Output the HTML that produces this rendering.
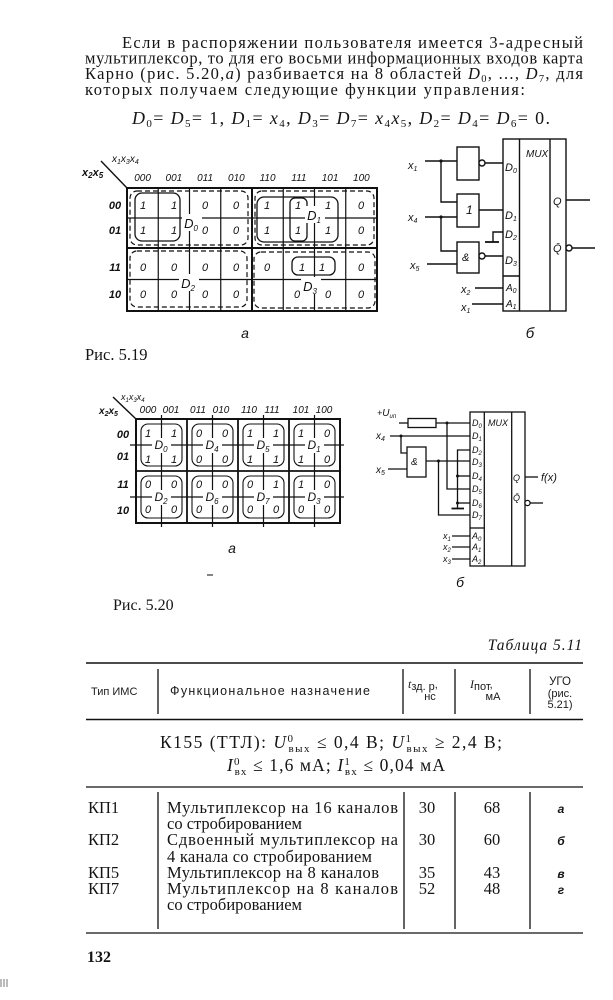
<!DOCTYPE html>
<html><head><meta charset="utf-8">
<style>
html,body{margin:0;padding:0;background:#fff;}
svg{display:block;}
</style></head><body>
<svg width="613" height="1000" viewBox="0 0 613 1000" xmlns="http://www.w3.org/2000/svg">
<rect width="613" height="1000" fill="#fff"/>

<!-- ============ BODY TEXT ============ -->
<g font-family="'Liberation Serif', serif" fill="#141414" font-size="16.5">
<text x="122" y="48" textLength="461" lengthAdjust="spacing">Если в распоряжении пользователя имеется 3-адресный</text>
<text x="85" y="63.5" textLength="498" lengthAdjust="spacing">мультиплексор, то для его восьми информационных входов карта</text>
<text x="85" y="79" textLength="498" lengthAdjust="spacing">Карно (рис. 5.20,<tspan font-style="italic">а</tspan>) разбивается на 8 областей <tspan font-style="italic">D</tspan><tspan dy="3" font-size="10.5">0</tspan><tspan dy="-3">, ..., </tspan><tspan font-style="italic">D</tspan><tspan dy="3" font-size="10.5">7</tspan><tspan dy="-3">, для</tspan></text>
<text x="85" y="95" textLength="440" lengthAdjust="spacing">которых получаем следующие функции управления:</text>
<text x="132" y="124" font-size="18" textLength="418" lengthAdjust="spacing"><tspan font-style="italic">D</tspan><tspan dy="3" font-size="11">0</tspan><tspan dy="-3">= </tspan><tspan font-style="italic">D</tspan><tspan dy="3" font-size="11">5</tspan><tspan dy="-3">= 1, </tspan><tspan font-style="italic">D</tspan><tspan dy="3" font-size="11">1</tspan><tspan dy="-3">= </tspan><tspan font-style="italic">x</tspan><tspan dy="3" font-size="11">4</tspan><tspan dy="-3">, </tspan><tspan font-style="italic">D</tspan><tspan dy="3" font-size="11">3</tspan><tspan dy="-3">= </tspan><tspan font-style="italic">D</tspan><tspan dy="3" font-size="11">7</tspan><tspan dy="-3">= </tspan><tspan font-style="italic">x</tspan><tspan dy="3" font-size="11">4</tspan><tspan dy="-3" font-style="italic">x</tspan><tspan dy="3" font-size="11">5</tspan><tspan dy="-3">, </tspan><tspan font-style="italic">D</tspan><tspan dy="3" font-size="11">2</tspan><tspan dy="-3">= </tspan><tspan font-style="italic">D</tspan><tspan dy="3" font-size="11">4</tspan><tspan dy="-3">= </tspan><tspan font-style="italic">D</tspan><tspan dy="3" font-size="11">6</tspan><tspan dy="-3">= 0.</tspan></text>
</g>

<!-- ============ FIG 5.19 a : Karnaugh map ============ -->
<g stroke="#111" fill="none">
  <rect x="127" y="188" width="250" height="123" stroke-width="2"/>
  <line x1="252" y1="188" x2="252" y2="311" stroke-width="2"/>
  <line x1="127" y1="248" x2="377" y2="248" stroke-width="2"/>
  <g stroke-width="1.2">
    <line x1="158.25" y1="188" x2="158.25" y2="311"/>
    <line x1="189.5" y1="188" x2="189.5" y2="311"/>
    <line x1="220.75" y1="188" x2="220.75" y2="311"/>
    <line x1="283.25" y1="188" x2="283.25" y2="311"/>
    <line x1="314.5" y1="188" x2="314.5" y2="311"/>
    <line x1="345.75" y1="188" x2="345.75" y2="311"/>
    <line x1="127" y1="218" x2="377" y2="218"/>
    <line x1="127" y1="279.5" x2="377" y2="279.5"/>
  </g>
  <line x1="101" y1="161" x2="127" y2="188" stroke-width="1.4"/>
  <g stroke-width="1.2" stroke-dasharray="5 3">
    <rect x="130" y="191" width="118" height="54" rx="7"/>
    <rect x="255" y="191" width="119" height="54" rx="7"/>
    <rect x="130" y="251" width="117" height="56" rx="7"/>
    <rect x="254" y="252" width="121" height="56" rx="7"/>
  </g>
  <g stroke-width="1.3">
    <rect x="135" y="193" width="45" height="48" rx="7"/>
    <rect x="257" y="197" width="81" height="45" rx="7"/>
    <rect x="290" y="198" width="17" height="43" rx="5"/>
    <rect x="292" y="257" width="43" height="18" rx="6"/>
  </g>
</g>
<g fill="#fff">
  <rect x="182" y="214" width="20" height="17"/>
  <rect x="305" y="206" width="20" height="17"/>
  <rect x="179" y="274" width="20" height="17"/>
  <rect x="301" y="277" width="20" height="17"/>
</g>
<g font-family="'Liberation Sans', sans-serif" font-style="italic" fill="#111">
  <g font-size="13" text-anchor="middle">
    <text x="191" y="228">D<tspan dy="3" font-size="8">0</tspan></text>
    <text x="314" y="220">D<tspan dy="3" font-size="8">1</tspan></text>
    <text x="188" y="288">D<tspan dy="3" font-size="8">2</tspan></text>
    <text x="310" y="291">D<tspan dy="3" font-size="8">3</tspan></text>
  </g>
  <g font-size="10" text-anchor="middle">
    <text x="142.6" y="181">000</text><text x="173.9" y="181">001</text>
    <text x="205.1" y="181">011</text><text x="236.4" y="181">010</text>
    <text x="267.6" y="181">110</text><text x="298.9" y="181">111</text>
    <text x="330.1" y="181">101</text><text x="361.4" y="181">100</text>
  </g>
  <g font-size="11" font-weight="bold" text-anchor="middle">
    <text x="115" y="209">00</text><text x="115" y="234">01</text>
    <text x="115" y="271">11</text><text x="115" y="298">10</text>
  </g>
  <text x="112" y="162" font-size="10">x<tspan dy="2" font-size="7">1</tspan><tspan dy="-2">x</tspan><tspan dy="2" font-size="7">3</tspan><tspan dy="-2">x</tspan><tspan dy="2" font-size="7">4</tspan></text>
  <text x="82" y="176" font-size="11" font-weight="bold">x<tspan dy="2" font-size="8">2</tspan><tspan dy="-2">x</tspan><tspan dy="2" font-size="8">5</tspan></text>
  <g font-size="11" text-anchor="middle">
    <text x="143" y="209">1</text><text x="174" y="209">1</text><text x="205" y="209">0</text><text x="236" y="209">0</text>
    <text x="267" y="209">1</text><text x="298" y="209">1</text><text x="328" y="209">1</text><text x="361" y="209">0</text>
    <text x="143" y="234">1</text><text x="174" y="234">1</text><text x="205" y="234">0</text><text x="236" y="234">0</text>
    <text x="267" y="234">1</text><text x="298" y="234">1</text><text x="328" y="234">1</text><text x="361" y="234">0</text>
    <text x="143" y="271">0</text><text x="174" y="271">0</text><text x="205" y="271">0</text><text x="236" y="271">0</text>
    <text x="267" y="271">0</text><text x="302" y="271">1</text><text x="322" y="271">1</text><text x="361" y="271">0</text>
    <text x="143" y="298">0</text><text x="174" y="298">0</text><text x="205" y="298">0</text><text x="236" y="298">0</text>
    <text x="297" y="298">0</text><text x="328" y="298">0</text><text x="361" y="298">0</text>
  </g>
  <text x="245" y="338" font-size="14" text-anchor="middle">а</text>
</g>
<text x="85" y="360" font-family="'Liberation Serif', serif" font-size="16.5" fill="#141414">Рис. 5.19</text>

<!-- ============ FIG 5.19 б : MUX circuit ============ -->
<g stroke="#111" fill="none" stroke-width="1.4">
  <rect x="503" y="139" width="63" height="172"/>
  <line x1="519.5" y1="139" x2="519.5" y2="311"/>
  <line x1="550" y1="139" x2="550" y2="311"/>
  <line x1="503" y1="276" x2="519.5" y2="276"/>
  <rect x="457" y="147" width="22" height="33"/>
  <circle cx="482" cy="163" r="3" fill="#fff"/>
  <line x1="485" y1="163" x2="503" y2="163"/>
  <rect x="457" y="194" width="22" height="33"/>
  <line x1="479" y1="210" x2="503" y2="210"/>
  <rect x="457" y="242" width="22" height="31"/>
  <circle cx="482" cy="256" r="3" fill="#fff"/>
  <line x1="485" y1="256" x2="503" y2="256"/>
  <polyline points="503,232 493,232 493,242"/>
  <line x1="485" y1="242" x2="499" y2="242" stroke-width="1.8"/>
  <line x1="425" y1="161" x2="457" y2="161"/>
  <polyline points="441,161 441,202 457,202"/>
  <line x1="425" y1="217" x2="457" y2="217"/>
  <polyline points="441,217 441,251 457,251"/>
  <line x1="427" y1="264" x2="457" y2="264"/>
  <line x1="475" y1="288" x2="503" y2="288"/>
  <line x1="472" y1="304" x2="503" y2="304"/>
  <line x1="566" y1="200" x2="590" y2="200"/>
  <circle cx="569" cy="248" r="3" fill="#fff"/>
  <line x1="572" y1="248" x2="595" y2="248"/>
</g>
<g fill="#111">
  <circle cx="441" cy="161" r="1.6"/><circle cx="441" cy="217" r="1.6"/>
</g>
<g font-family="'Liberation Sans', sans-serif" font-style="italic" fill="#111">
  <text x="526" y="157" font-size="10">MUX</text>
  <g font-size="11">
    <text x="505" y="171">D<tspan dy="2" font-size="7">0</tspan></text>
    <text x="505" y="219">D<tspan dy="2" font-size="7">1</tspan></text>
    <text x="505" y="238">D<tspan dy="2" font-size="7">2</tspan></text>
    <text x="505" y="264">D<tspan dy="2" font-size="7">3</tspan></text>
    <text x="506" y="291" font-size="10">A<tspan dy="2" font-size="7">0</tspan></text>
    <text x="506" y="307" font-size="10">A<tspan dy="2" font-size="7">1</tspan></text>
    <text x="553" y="205">Q</text>
    <text x="553" y="252">Q̄</text>
    <text x="466" y="214" font-size="12">1</text>
    <text x="462" y="261" font-size="11">&amp;</text>
    <text x="408" y="169">x<tspan dy="2" font-size="7">1</tspan></text>
    <text x="408" y="221">x<tspan dy="2" font-size="7">4</tspan></text>
    <text x="410" y="269">x<tspan dy="2" font-size="7">5</tspan></text>
    <text x="461" y="293">x<tspan dy="2" font-size="7">2</tspan></text>
    <text x="461" y="311">x<tspan dy="2" font-size="7">1</tspan></text>
  </g>
  <text x="530" y="338" font-size="15" text-anchor="middle">б</text>
</g>

<!-- ============ FIG 5.20 a : Karnaugh map ============ -->
<g stroke="#111" fill="none">
  <rect x="136" y="419" width="204" height="104" stroke-width="2"/>
  <g stroke-width="1.8">
    <line x1="187" y1="419" x2="187" y2="523"/>
    <line x1="238" y1="419" x2="238" y2="523"/>
    <line x1="289" y1="419" x2="289" y2="523"/>
    <line x1="136" y1="471" x2="340" y2="471"/>
  </g>
  <g stroke-width="1.2">
    <line x1="130" y1="445" x2="344" y2="445"/>
    <line x1="130" y1="497" x2="344" y2="497"/>
    <line x1="161.5" y1="415" x2="161.5" y2="527"/>
    <line x1="212.5" y1="415" x2="212.5" y2="527"/>
    <line x1="263.5" y1="415" x2="263.5" y2="527"/>
    <line x1="314.5" y1="415" x2="314.5" y2="527"/>
  </g>
  <g stroke-width="1.1">
    <rect x="141" y="424" width="41" height="42" rx="7"/>
    <rect x="192" y="424" width="41" height="42" rx="7"/>
    <rect x="243" y="424" width="41" height="42" rx="7"/>
    <rect x="294" y="424" width="41" height="42" rx="7"/>
    <rect x="141" y="476" width="41" height="42" rx="7"/>
    <rect x="192" y="476" width="41" height="42" rx="7"/>
    <rect x="243" y="476" width="41" height="42" rx="7"/>
    <rect x="294" y="476" width="41" height="42" rx="7"/>
  </g>
  <line x1="113" y1="397" x2="136" y2="419" stroke-width="1.4"/>
</g>
<g fill="#fff">
  <rect x="152" y="438" width="19" height="15"/><rect x="203" y="438" width="19" height="15"/>
  <rect x="254" y="438" width="19" height="15"/><rect x="305" y="438" width="19" height="15"/>
  <rect x="152" y="490" width="19" height="15"/><rect x="203" y="490" width="19" height="15"/>
  <rect x="254" y="490" width="19" height="15"/><rect x="305" y="490" width="19" height="15"/>
</g>
<g font-family="'Liberation Sans', sans-serif" font-style="italic" fill="#111">
  <g font-size="12" text-anchor="middle">
    <text x="161" y="449">D<tspan dy="3" font-size="8">0</tspan></text>
    <text x="212" y="449">D<tspan dy="3" font-size="8">4</tspan></text>
    <text x="263" y="449">D<tspan dy="3" font-size="8">5</tspan></text>
    <text x="314" y="449">D<tspan dy="3" font-size="8">1</tspan></text>
    <text x="161" y="501">D<tspan dy="3" font-size="8">2</tspan></text>
    <text x="212" y="501">D<tspan dy="3" font-size="8">6</tspan></text>
    <text x="263" y="501">D<tspan dy="3" font-size="8">7</tspan></text>
    <text x="314" y="501">D<tspan dy="3" font-size="8">3</tspan></text>
  </g>
  <g font-size="10" text-anchor="middle">
    <text x="148" y="413">000</text><text x="171" y="413">001</text>
    <text x="198" y="413">011</text><text x="221" y="413">010</text>
    <text x="249" y="413">110</text><text x="272" y="413">111</text>
    <text x="301" y="413">101</text><text x="324" y="413">100</text>
  </g>
  <g font-size="11" font-weight="bold" text-anchor="middle">
    <text x="123" y="438">00</text><text x="123" y="460">01</text>
    <text x="123" y="488">11</text><text x="123" y="514">10</text>
  </g>
  <text x="121" y="400" font-size="9">x<tspan dy="2" font-size="6">1</tspan><tspan dy="-2">x</tspan><tspan dy="2" font-size="6">3</tspan><tspan dy="-2">x</tspan><tspan dy="2" font-size="6">4</tspan></text>
  <text x="99" y="414" font-size="10" font-weight="bold">x<tspan dy="2" font-size="7">2</tspan><tspan dy="-2">x</tspan><tspan dy="2" font-size="7">5</tspan></text>
  <g font-size="11" text-anchor="middle">
    <text x="148" y="437">1</text><text x="174" y="437">1</text><text x="148" y="463">1</text><text x="174" y="463">1</text>
    <text x="199" y="437">0</text><text x="225" y="437">0</text><text x="199" y="463">0</text><text x="225" y="463">0</text>
    <text x="250" y="437">1</text><text x="276" y="437">1</text><text x="250" y="463">1</text><text x="276" y="463">1</text>
    <text x="301" y="437">1</text><text x="327" y="437">0</text><text x="301" y="463">1</text><text x="327" y="463">0</text>
    <text x="148" y="488">0</text><text x="174" y="488">0</text><text x="148" y="513">0</text><text x="174" y="513">0</text>
    <text x="199" y="488">0</text><text x="225" y="488">0</text><text x="199" y="513">0</text><text x="225" y="513">0</text>
    <text x="250" y="488">0</text><text x="276" y="488">1</text><text x="250" y="513">0</text><text x="276" y="513">0</text>
    <text x="301" y="488">1</text><text x="327" y="488">0</text><text x="301" y="513">0</text><text x="327" y="513">0</text>
  </g>
  <text x="232" y="553" font-size="14" text-anchor="middle">а</text>
</g>
<line x1="207" y1="575" x2="213" y2="575" stroke="#333" stroke-width="1.2"/>
<text x="113" y="610" font-family="'Liberation Serif', serif" font-size="16" fill="#141414">Рис. 5.20</text>

<!-- ============ FIG 5.20 б : MUX circuit ============ -->
<g stroke="#111" fill="none" stroke-width="1.3">
  <rect x="470" y="412" width="55" height="154"/>
  <line x1="484.3" y1="412" x2="484.3" y2="566"/>
  <line x1="511.7" y1="412" x2="511.7" y2="566"/>
  <line x1="470" y1="528" x2="484.3" y2="528"/>
  <line x1="399" y1="423" x2="408" y2="423"/>
  <rect x="408" y="418.5" width="28" height="9"/>
  <line x1="436" y1="423" x2="470" y2="423"/>
  <polyline points="447,423 447,489 470,489"/>
  <line x1="390" y1="436" x2="470" y2="436"/>
  <polyline points="401,436 401,453 407,453"/>
  <rect x="407" y="447" width="19" height="30"/>
  <line x1="388" y1="469" x2="407" y2="469"/>
  <line x1="426" y1="461" x2="470" y2="461"/>
  <polyline points="438.5,461 438.5,515 470,515"/>
  <polyline points="470,450 457.5,450 457.5,508"/>
  <line x1="457.5" y1="476" x2="470" y2="476"/>
  <line x1="457.5" y1="503" x2="470" y2="503"/>
  <line x1="451.5" y1="508.5" x2="464" y2="508.5" stroke-width="1.8"/>
  <line x1="452" y1="536" x2="470" y2="536"/>
  <line x1="452" y1="547" x2="470" y2="547"/>
  <line x1="452" y1="559" x2="470" y2="559"/>
  <line x1="525" y1="477" x2="538" y2="477"/>
  <circle cx="527.5" cy="503" r="2.6" fill="#fff"/>
  <line x1="530" y1="503" x2="543" y2="503"/>
</g>
<g fill="#111">
  <circle cx="447" cy="423" r="1.5"/><circle cx="401" cy="436" r="1.5"/>
  <circle cx="438.5" cy="461" r="1.5"/><circle cx="457.5" cy="476" r="1.5"/>
  <circle cx="457.5" cy="503" r="1.5"/>
</g>
<g font-family="'Liberation Sans', sans-serif" font-style="italic" fill="#111">
  <text x="488" y="426" font-size="9">MUX</text>
  <g font-size="9">
    <text x="472" y="426">D<tspan dy="2" font-size="6">0</tspan></text>
    <text x="472" y="439">D<tspan dy="2" font-size="6">1</tspan></text>
    <text x="472" y="453">D<tspan dy="2" font-size="6">2</tspan></text>
    <text x="472" y="465">D<tspan dy="2" font-size="6">3</tspan></text>
    <text x="472" y="479">D<tspan dy="2" font-size="6">4</tspan></text>
    <text x="472" y="492">D<tspan dy="2" font-size="6">5</tspan></text>
    <text x="472" y="506">D<tspan dy="2" font-size="6">6</tspan></text>
    <text x="472" y="518">D<tspan dy="2" font-size="6">7</tspan></text>
    <text x="472" y="539">A<tspan dy="2" font-size="6">0</tspan></text>
    <text x="472" y="550">A<tspan dy="2" font-size="6">1</tspan></text>
    <text x="472" y="562">A<tspan dy="2" font-size="6">2</tspan></text>
    <text x="513" y="481">Q</text>
    <text x="513" y="501">Q̄</text>
    <text x="411" y="465" font-size="10">&amp;</text>
    <text x="377" y="416">+<tspan font-size="10">U</tspan><tspan dy="2" font-size="6">ип</tspan></text>
    <text x="376" y="439" font-size="10">x<tspan dy="2" font-size="7">4</tspan></text>
    <text x="376" y="473" font-size="10">x<tspan dy="2" font-size="7">5</tspan></text>
    <text x="443" y="539">x<tspan dy="2" font-size="6">1</tspan></text>
    <text x="443" y="550">x<tspan dy="2" font-size="6">2</tspan></text>
    <text x="443" y="562">x<tspan dy="2" font-size="6">3</tspan></text>
  </g>
  <text x="541" y="481" font-size="11">f(x)</text>
  <text x="460" y="587" font-size="14" text-anchor="middle">б</text>
</g>

<!-- ============ TABLE ============ -->
<text x="583" y="650" text-anchor="end" font-family="'Liberation Serif', serif" font-style="italic" font-size="15.5" letter-spacing="1" fill="#141414">Таблица 5.11</text>
<g stroke="#111" fill="none">
  <line x1="86" y1="663" x2="583" y2="663" stroke-width="1.6"/>
  <line x1="86" y1="719.5" x2="583" y2="719.5" stroke-width="1.6"/>
  <line x1="86" y1="787" x2="583" y2="787" stroke-width="1.3"/>
  <line x1="86" y1="933" x2="583" y2="933" stroke-width="1.3"/>
  <g stroke-width="1.3">
    <line x1="158" y1="669" x2="158" y2="714"/>
    <line x1="403" y1="669" x2="403" y2="714"/>
    <line x1="455" y1="669" x2="455" y2="714"/>
    <line x1="530" y1="669" x2="530" y2="714"/>
    <line x1="158" y1="792" x2="158" y2="929"/>
    <line x1="404" y1="792" x2="404" y2="929"/>
    <line x1="455" y1="792" x2="455" y2="929"/>
    <line x1="530" y1="792" x2="530" y2="929"/>
  </g>
</g>
<g font-family="'Liberation Sans', sans-serif" font-size="11" fill="#1a1a1a">
  <text x="91" y="695">Тип ИМС</text>
  <text x="270" y="695" text-anchor="middle" font-size="12.5" textLength="200" lengthAdjust="spacing">Функциональное назначение</text>
  <text x="408" y="688"><tspan font-style="italic" font-family="'Liberation Serif', serif" font-size="12">t</tspan><tspan dy="2">зд. р</tspan><tspan dy="-2">,</tspan></text>
  <text x="430" y="700" text-anchor="middle">нс</text>
  <text x="470" y="688"><tspan font-style="italic" font-family="'Liberation Serif', serif" font-size="12">I</tspan><tspan dy="2">пот</tspan><tspan dy="-2">,</tspan></text>
  <text x="493" y="700" text-anchor="middle">мА</text>
  <text x="560" y="685" text-anchor="middle" font-size="11.5">УГО</text>
  <text x="560" y="697" text-anchor="middle">(рис.</text>
  <text x="560" y="708" text-anchor="middle">5.21)</text>
</g>
<g font-family="'Liberation Serif', serif" font-size="16.5" fill="#141414">
  <text x="160" y="748" font-size="17.5" textLength="342" lengthAdjust="spacing">К155 (ТТЛ): <tspan font-style="italic">U</tspan><tspan dy="-6" font-size="11">0</tspan><tspan dx="-6" dy="10" font-size="11">вых</tspan><tspan dy="-4"> ≤ 0,4  В; </tspan><tspan font-style="italic">U</tspan><tspan dy="-6" font-size="11">1</tspan><tspan dx="-6" dy="10" font-size="11">вых</tspan><tspan dy="-4"> ≥ 2,4  В;</tspan></text>
  <text x="227" y="771" font-size="17.5" textLength="218" lengthAdjust="spacing"><tspan font-style="italic">I</tspan><tspan dy="-6" font-size="11">0</tspan><tspan dx="-6" dy="10" font-size="11">вх</tspan><tspan dy="-4"> ≤ 1,6  мА; </tspan><tspan font-style="italic">I</tspan><tspan dy="-6" font-size="11">1</tspan><tspan dx="-6" dy="10" font-size="11">вх</tspan><tspan dy="-4"> ≤ 0,04  мА</tspan></text>

  <text x="88" y="813">КП1</text>
  <text x="88" y="845">КП2</text>
  <text x="88" y="878">КП5</text>
  <text x="88" y="894">КП7</text>

  <text x="167" y="813" textLength="231" lengthAdjust="spacing">Мультиплексор на  16 каналов</text>
  <text x="167" y="829">со стробированием</text>
  <text x="167" y="845" textLength="231" lengthAdjust="spacing">Сдвоенный мультиплексор  на</text>
  <text x="167" y="862" textLength="205" lengthAdjust="spacing">4 канала со стробированием</text>
  <text x="167" y="878" textLength="212" lengthAdjust="spacing">Мультиплексор на 8 каналов</text>
  <text x="167" y="894" textLength="231" lengthAdjust="spacing">Мультиплексор  на 8 каналов</text>
  <text x="167" y="910">со стробированием</text>

  <g text-anchor="middle">
    <text x="427" y="813">30</text><text x="492" y="813">68</text>
    <text x="427" y="845">30</text><text x="492" y="845">60</text>
    <text x="427" y="878">35</text><text x="492" y="878">43</text>
    <text x="427" y="894">52</text><text x="492" y="894">48</text>
  </g>
  <g text-anchor="middle" font-style="italic" font-family="'Liberation Sans', sans-serif" font-size="12" font-weight="bold">
    <text x="561" y="813">а</text>
    <text x="561" y="845">б</text>
    <text x="561" y="878">в</text>
    <text x="561" y="894">г</text>
  </g>

  <text x="87" y="962" font-weight="bold" font-size="16">132</text>
</g>
<g stroke="#555" stroke-width="0.8">
  <line x1="1" y1="979" x2="1" y2="987"/><line x1="4" y1="979" x2="4" y2="987"/><line x1="7" y1="979" x2="7" y2="987"/>
</g>
</svg>
</body></html>
